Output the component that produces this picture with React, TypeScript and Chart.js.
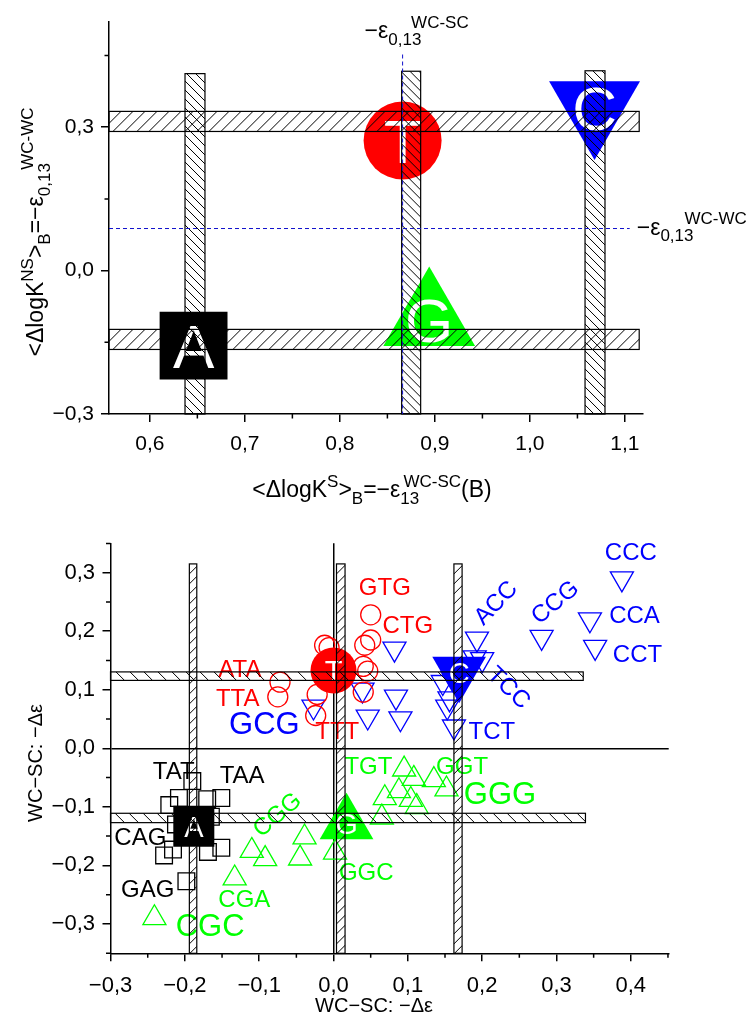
import React, { useEffect, useRef } from "react";
import { Chart, registerables } from "chart.js";

Chart.register(...registerables);

const FONT = '"Liberation Sans", Arial, Helvetica, sans-serif';
const RED = "#ff0000";
const BLUE = "#0000ff";
const GREEN = "#00ff00";
const BLACK = "#000000";

// ---------- upper panel: averaged base values ----------
const topBases = ["A", "T", "G", "C"];
const topX = [0.646, 0.866, 0.894, 1.068];
const topY = [-0.157, 0.272, -0.1025, 0.341];

// hatched confidence bands (x-ranges of vertical bands, y-ranges of horizontal bands)
const topVBands = [
  [0.637, 0.658],
  [0.865, 0.885],
  [1.058, 1.079],
];
const topVBandTop = [0.412, 0.417, 0.418];
const topHBands = [
  [0.291, 0.333],
  [-0.165, -0.123],
];
const topHBandEnd = 1.115;
const topRefX = 0.866; // -eps0,13 WC-SC
const topRefY = 0.088; // -eps0,13 WC-WC
const topRefXTop = 0.452;
const topRefYEnd = 1.105;

const topXMinor = [0.65, 0.75, 0.85, 0.95, 1.05];
const topYMinor = [-0.15, 0.15, 0.45];

// ---------- lower panel: averaged bases and individual triplets ----------
const botBases = ["A", "T", "G", "C"];
const botX = [-0.188, 0.0, 0.0175, 0.169];
const botY = [-0.133, 0.133, -0.129, 0.13];

const botVBands = [
  [-0.194, -0.184],
  [0.004, 0.0155],
  [0.162, 0.173],
];
const botVBandTop = 0.315;
const botHBands = [
  [0.116, 0.1305],
  [-0.127, -0.111],
];
const botHBandEnd = [0.336, 0.339];

const redX = [0.05, 0.05, 0.042, -0.012, -0.006, 0.04, 0.046, -0.072, -0.075, -0.022, -0.024, 0.04];
const redY = [0.228, 0.185, 0.176, 0.176, 0.172, 0.14, 0.132, 0.113, 0.088, 0.092, 0.056, 0.096];

const blueX = [0.388, 0.345, 0.352, 0.28, 0.193, 0.2, 0.19, 0.147, 0.156, 0.153, 0.162, 0.084, 0.09, 0.082, -0.027, 0.039, 0.046, 0.16];
const blueY = [0.29, 0.22, 0.173, 0.19, 0.187, 0.152, 0.155, 0.113, 0.085, 0.071, 0.037, 0.088, 0.051, 0.17, 0.071, 0.1, 0.054, 0.12];

const greenX = [-0.241, -0.133, -0.11, -0.092, -0.039, -0.045, 0.002, 0.065, 0.069, 0.088, 0.095, 0.108, 0.104, 0.112, 0.135, 0.152];
const greenY = [-0.29, -0.222, -0.175, -0.189, -0.152, -0.188, -0.178, -0.118, -0.085, -0.073, -0.036, -0.052, -0.088, -0.1, -0.054, -0.07];

const blackX = [-0.19, -0.208, -0.221, -0.17, -0.151, -0.165, -0.228, -0.216, -0.169, -0.151, -0.198, -0.212];
const blackY = [-0.056, -0.085, -0.097, -0.087, -0.085, -0.117, -0.183, -0.173, -0.177, -0.17, -0.227, -0.13];

const redLabels = ["GTG", "CTG", "ATA", "TTA", "TTT"];
const redLabelX = [0.069, 0.1, -0.126, -0.129, 0.005];
const redLabelY = [0.276, 0.211, 0.136, 0.0865, 0.03];

const blueLabels = ["CCC", "CCA", "CCT", "CCG", "ACC", "TCC", "TCT", "GCG"];
const blueLabelX = [0.4, 0.405, 0.409, 0.297, 0.217, 0.237, 0.213, -0.093];
const blueLabelY = [0.336, 0.229, 0.162, 0.251, 0.25, 0.105, 0.03, 0.044];

const greenLabels = ["TGT", "GGT", "GGG", "GGC", "CGG", "CGA", "CGC"];
const greenLabelX = [0.047, 0.173, 0.224, 0.044, -0.077, -0.12, -0.166];
const greenLabelY = [-0.03, -0.029, -0.076, -0.21, -0.112, -0.256, -0.301];

const blackLabels = ["TAT", "TAA", "CAG", "GAG"];
const blackLabelX = [-0.215, -0.123, -0.26, -0.25];
const blackLabelY = [-0.038, -0.044, -0.15, -0.239];

const botXMinor = [-0.25, -0.15, -0.05, 0.05, 0.15, 0.25, 0.35, 0.45];
const botYMinor = [-0.35, -0.25, -0.15, -0.05, 0.05, 0.15, 0.25, 0.35];

// ---------- styling ----------
const baseStyle: Record<string, { style: string; rot: number; color: string }> = {
  A: { style: "rect", rot: 0, color: BLACK },
  T: { style: "circle", rot: 0, color: RED },
  G: { style: "triangle", rot: 0, color: GREEN },
  C: { style: "triangle", rot: 180, color: BLUE },
};
const topRadius: Record<string, number> = { A: 48, T: 39, G: 53, C: 52.5 };
const botRadius: Record<string, number> = { A: 29, T: 23, G: 31, C: 31 };
const labelTilt: Record<string, number> = { ACC: -46, CCG: -40, TCC: 44, CGG: -40 };
const bigLabels = new Set(["GCG", "GGG", "CGC"]);

function fmt(v: number): string {
  const n = Math.abs(v) < 1e-9 ? 0 : v;
  return n.toFixed(1).replace(".", ",").replace("-", "\u2212");
}

type Part = { t: string; k?: "sup" | "sub"; at?: number };

function drawRich(
  ctx: CanvasRenderingContext2D,
  parts: Part[],
  x: number,
  y: number,
  size: number,
  align: "center" | "left",
  rotate = 0
) {
  const small = Math.round(size * 0.72);
  const items: { t: string; fs: number; x: number; dy: number }[] = [];
  let cursor = 0;
  let prevStart = 0;
  let prevW = 0;
  let maxX = 0;
  for (const p of parts) {
    const fs = p.k ? small : size;
    ctx.font = `${fs}px ${FONT}`;
    const w = ctx.measureText(p.t).width;
    const sx = p.at !== undefined ? prevStart + prevW * p.at : cursor;
    const dy = p.k === "sup" ? -size * 0.45 : p.k === "sub" ? size * 0.3 : 0;
    items.push({ t: p.t, fs, x: sx, dy });
    prevStart = sx;
    prevW = w;
    cursor = Math.max(cursor, sx + w);
    maxX = Math.max(maxX, sx + w);
  }
  const off = align === "center" ? -maxX / 2 : 0;
  ctx.save();
  ctx.translate(x, y);
  ctx.rotate(rotate);
  ctx.fillStyle = BLACK;
  ctx.textAlign = "left";
  ctx.textBaseline = "alphabetic";
  for (const it of items) {
    ctx.font = `${it.fs}px ${FONT}`;
    ctx.fillText(it.t, off + it.x, it.dy);
  }
  ctx.restore();
}

function hatchRect(
  ctx: CanvasRenderingContext2D,
  xa: number,
  ya: number,
  xb: number,
  yb: number,
  spacing: number,
  dir: 1 | -1
) {
  const l = Math.min(xa, xb);
  const r = Math.max(xa, xb);
  const t = Math.min(ya, yb);
  const b = Math.max(ya, yb);
  const h = b - t;
  ctx.save();
  ctx.beginPath();
  ctx.rect(l, t, r - l, b - t);
  ctx.clip();
  ctx.beginPath();
  for (let x = l - h - spacing; x < r + spacing; x += spacing) {
    if (dir === 1) {
      ctx.moveTo(x, b);
      ctx.lineTo(x + h, t);
    } else {
      ctx.moveTo(x, t);
      ctx.lineTo(x + h, b);
    }
  }
  ctx.lineWidth = 1;
  ctx.strokeStyle = BLACK;
  ctx.stroke();
  ctx.restore();
  ctx.save();
  ctx.lineWidth = 1.2;
  ctx.strokeStyle = BLACK;
  ctx.strokeRect(l, t, r - l, b - t);
  ctx.restore();
}

function drawMinorTicks(chart: any, xs: number[], ys: number[]) {
  const ctx: CanvasRenderingContext2D = chart.ctx;
  const { left, bottom } = chart.chartArea;
  const sx = chart.scales.x;
  const sy = chart.scales.y;
  ctx.save();
  ctx.strokeStyle = BLACK;
  ctx.lineWidth = 1.5;
  ctx.beginPath();
  for (const v of xs) {
    const p = sx.getPixelForValue(v);
    ctx.moveTo(p, bottom);
    ctx.lineTo(p, bottom + 4.5);
  }
  for (const v of ys) {
    const p = sy.getPixelForValue(v);
    ctx.moveTo(left, p);
    ctx.lineTo(left - 4.5, p);
  }
  ctx.stroke();
  ctx.restore();
}

function drawBaseLetters(chart: any, bases: string[], size: number) {
  const ctx: CanvasRenderingContext2D = chart.ctx;
  const meta = chart.getDatasetMeta(0);
  ctx.save();
  ctx.fillStyle = "#ffffff";
  ctx.font = `${size}px ${FONT}`;
  ctx.textAlign = "center";
  ctx.textBaseline = "alphabetic";
  meta.data.forEach((pt: any, i: number) => {
    ctx.fillText(bases[i], pt.x, pt.y + size * 0.358);
  });
  ctx.restore();
}

function bigDataset(xs: number[], ys: number[], bases: string[], radius: Record<string, number>) {
  return {
    data: xs.map((x, i) => ({ x, y: ys[i] })),
    pointStyle: bases.map((b) => baseStyle[b].style),
    pointRotation: bases.map((b) => baseStyle[b].rot),
    pointRadius: bases.map((b) => radius[b]),
    pointHoverRadius: bases.map((b) => radius[b]),
    pointBackgroundColor: bases.map((b) => baseStyle[b].color),
    pointBorderColor: bases.map((b) => baseStyle[b].color),
    pointBorderWidth: 0,
    clip: false as any,
  };
}

function openDataset(xs: number[], ys: number[], style: string, rot: number, r: number, color: string) {
  return {
    data: xs.map((x, i) => ({ x, y: ys[i] })),
    pointStyle: style,
    pointRotation: rot,
    pointRadius: r,
    pointHoverRadius: r,
    pointBackgroundColor: "rgba(0,0,0,0)",
    pointBorderColor: color,
    pointBorderWidth: 1.3,
    clip: false as any,
  };
}

function axisOpts(min: number, max: number, step: number, fontSize: number, pad: number, size: number, horizontal: boolean, zeroLine: boolean) {
  return {
    type: "linear" as const,
    position: horizontal ? ("bottom" as const) : ("left" as const),
    min,
    max,
    afterFit: (s: any) => {
      if (horizontal) s.height = size;
      else s.width = size;
    },
    ticks: {
      stepSize: step,
      includeBounds: false,
      autoSkip: false,
      maxRotation: 0,
      padding: pad,
      color: BLACK,
      font: { family: FONT, size: fontSize },
      callback: (v: any) => fmt(Number(v)),
    },
    grid: {
      drawOnChartArea: zeroLine,
      drawTicks: true,
      tickLength: 8,
      tickWidth: 1.5,
      tickColor: BLACK,
      lineWidth: 1.5,
      color: (c: any) => (zeroLine && c.tick && Math.abs(c.tick.value) < 1e-9 ? BLACK : "rgba(0,0,0,0)"),
    },
    border: { display: true, color: BLACK, width: 1.5 },
  };
}

const TOP_H = 520;
const BOT_H = 503;

function TopPanel() {
  const ref = useRef<HTMLCanvasElement | null>(null);
  useEffect(() => {
    if (!ref.current) return;
    const decor = {
      id: "topDecor",
      afterDatasetsDraw(chart: any) {
        const ctx: CanvasRenderingContext2D = chart.ctx;
        const sx = chart.scales.x;
        const sy = chart.scales.y;
        const { left } = chart.chartArea;
        drawBaseLetters(chart, topBases, 62);
        // hatched bands
        topHBands.forEach(([y0, y1]) => {
          hatchRect(ctx, left, sy.getPixelForValue(y0), sx.getPixelForValue(topHBandEnd), sy.getPixelForValue(y1), 12, 1);
        });
        topVBands.forEach(([x0, x1], i) => {
          hatchRect(ctx, sx.getPixelForValue(x0), sy.getPixelForValue(-0.3), sx.getPixelForValue(x1), sy.getPixelForValue(topVBandTop[i]), 9, -1);
        });
        // reference dashed lines
        ctx.save();
        ctx.strokeStyle = "#1010cc";
        ctx.lineWidth = 1;
        ctx.setLineDash([4, 3]);
        ctx.beginPath();
        const rx = sx.getPixelForValue(topRefX);
        ctx.moveTo(rx, sy.getPixelForValue(topRefXTop));
        ctx.lineTo(rx, sy.getPixelForValue(-0.3));
        const ry = sy.getPixelForValue(topRefY);
        ctx.moveTo(left, ry);
        ctx.lineTo(sx.getPixelForValue(topRefYEnd), ry);
        ctx.stroke();
        ctx.restore();
      },
      afterDraw(chart: any) {
        const ctx: CanvasRenderingContext2D = chart.ctx;
        const sx = chart.scales.x;
        const sy = chart.scales.y;
        drawMinorTicks(chart, topXMinor, topYMinor);
        const rx = sx.getPixelForValue(topRefX);
        drawRich(
          ctx,
          [{ t: "\u2212\u03b5" }, { t: "0,13", k: "sub" }, { t: "WC-SC", k: "sup", at: 0.69 }],
          rx - 38,
          38,
          23,
          "left"
        );
        drawRich(
          ctx,
          [{ t: "\u2212\u03b5" }, { t: "0,13", k: "sub" }, { t: "WC-WC", k: "sup", at: 0.73 }],
          sx.getPixelForValue(topRefYEnd) + 7,
          sy.getPixelForValue(topRefY) + 6,
          23,
          "left"
        );
        drawRich(
          ctx,
          [
            { t: "<\u0394logK" },
            { t: "S", k: "sup" },
            { t: ">" },
            { t: "B", k: "sub" },
            { t: "=\u2212\u03b5" },
            { t: "13", k: "sub" },
            { t: "WC-SC", k: "sup", at: 0.17 },
            { t: "(B)" },
          ],
          372,
          497,
          23,
          "center"
        );
        drawRich(
          ctx,
          [
            { t: "<\u0394logK" },
            { t: "NS", k: "sup" },
            { t: ">" },
            { t: "B", k: "sub" },
            { t: "=\u2212\u03b5" },
            { t: "0,13", k: "sub" },
            { t: "WC-WC", k: "sup", at: 0.8 },
          ],
          43,
          232,
          23,
          "center",
          -Math.PI / 2
        );
      },
    };
    const chart = new Chart(ref.current, {
      type: "scatter",
      data: { datasets: [bigDataset(topX, topY, topBases, topRadius) as any] },
      options: {
        animation: false,
        responsive: false,
        events: [],
        layout: { autoPadding: false, padding: { top: 22, right: 105, left: 0, bottom: 0 } },
        plugins: { legend: { display: false }, tooltip: { enabled: false } },
        scales: {
          x: axisOpts(0.557, 1.119, 0.1, 21, 10, TOP_H - 414, true, false) as any,
          y: axisOpts(-0.3, 0.52, 0.3, 21, 7, 109, false, false) as any,
        },
      },
      plugins: [decor],
    });
    return () => chart.destroy();
  }, []);
  return <canvas ref={ref} width={748} height={TOP_H} style={{ display: "block", width: 748, height: TOP_H }} />;
}

function drawLabelSet(chart: any, texts: string[], xs: number[], ys: number[], color: string) {
  const ctx: CanvasRenderingContext2D = chart.ctx;
  const sx = chart.scales.x;
  const sy = chart.scales.y;
  texts.forEach((t, i) => {
    const size = bigLabels.has(t) ? 31 : 24;
    const tilt = labelTilt[t] || 0;
    ctx.save();
    ctx.translate(sx.getPixelForValue(xs[i]), sy.getPixelForValue(ys[i]));
    ctx.rotate((tilt * Math.PI) / 180);
    ctx.fillStyle = color;
    ctx.font = `${size}px ${FONT}`;
    ctx.textAlign = "center";
    ctx.textBaseline = "alphabetic";
    ctx.fillText(t, 0, size * 0.358);
    ctx.restore();
  });
}

function BottomPanel() {
  const ref = useRef<HTMLCanvasElement | null>(null);
  useEffect(() => {
    if (!ref.current) return;
    const decor = {
      id: "botDecor",
      afterDatasetsDraw(chart: any) {
        const ctx: CanvasRenderingContext2D = chart.ctx;
        const sx = chart.scales.x;
        const sy = chart.scales.y;
        const { left, bottom } = chart.chartArea;
        drawBaseLetters(chart, botBases, 29);
        drawLabelSet(chart, redLabels, redLabelX, redLabelY, RED);
        drawLabelSet(chart, blueLabels, blueLabelX, blueLabelY, BLUE);
        drawLabelSet(chart, greenLabels, greenLabelX, greenLabelY, GREEN);
        drawLabelSet(chart, blackLabels, blackLabelX, blackLabelY, BLACK);
        botHBands.forEach(([y0, y1], i) => {
          hatchRect(ctx, left, sy.getPixelForValue(y0), sx.getPixelForValue(botHBandEnd[i]), sy.getPixelForValue(y1), 14, -1);
        });
        botVBands.forEach(([x0, x1]) => {
          hatchRect(ctx, sx.getPixelForValue(x0), bottom, sx.getPixelForValue(x1), sy.getPixelForValue(botVBandTop), 10, 1);
        });
      },
      afterDraw(chart: any) {
        const ctx: CanvasRenderingContext2D = chart.ctx;
        drawMinorTicks(chart, botXMinor, botYMinor);
        drawRich(ctx, [{ t: "WC\u2212SC: \u2212\u0394\u03b5" }], 374, 492, 20, "center");
        drawRich(ctx, [{ t: "WC\u2212SC: \u2212\u0394\u03b5" }], 42, 243, 20, "center", -Math.PI / 2);
      },
    };
    const chart = new Chart(ref.current, {
      type: "scatter",
      data: {
        datasets: [
          bigDataset(botX, botY, botBases, botRadius) as any,
          openDataset(redX, redY, "circle", 0, 10, RED) as any,
          openDataset(blueX, blueY, "triangle", 180, 13.3, BLUE) as any,
          openDataset(greenX, greenY, "triangle", 0, 13.3, GREEN) as any,
          openDataset(blackX, blackY, "rect", 0, 11.8, BLACK) as any,
        ],
      },
      options: {
        animation: false,
        responsive: false,
        events: [],
        layout: { autoPadding: false, padding: { top: 23.3, right: 79.3, left: 0, bottom: 0 } },
        plugins: { legend: { display: false }, tooltip: { enabled: false } },
        scales: {
          x: axisOpts(-0.3001, 0.451, 0.1, 22, 11, BOT_H - 433.3, true, true) as any,
          y: axisOpts(-0.3502, 0.3502, 0.1, 22, 7.5, 110.5, false, true) as any,
        },
      },
      plugins: [decor],
    });
    return () => chart.destroy();
  }, []);
  return <canvas ref={ref} width={748} height={BOT_H} style={{ display: "block", width: 748, height: BOT_H }} />;
}

export default function App() {
  useEffect(() => {
    document.body.style.margin = "0";
  }, []);
  return (
    <div style={{ width: 748, height: 1023, background: "#ffffff", overflow: "hidden" }}>
      <TopPanel />
      <BottomPanel />
    </div>
  );
}
